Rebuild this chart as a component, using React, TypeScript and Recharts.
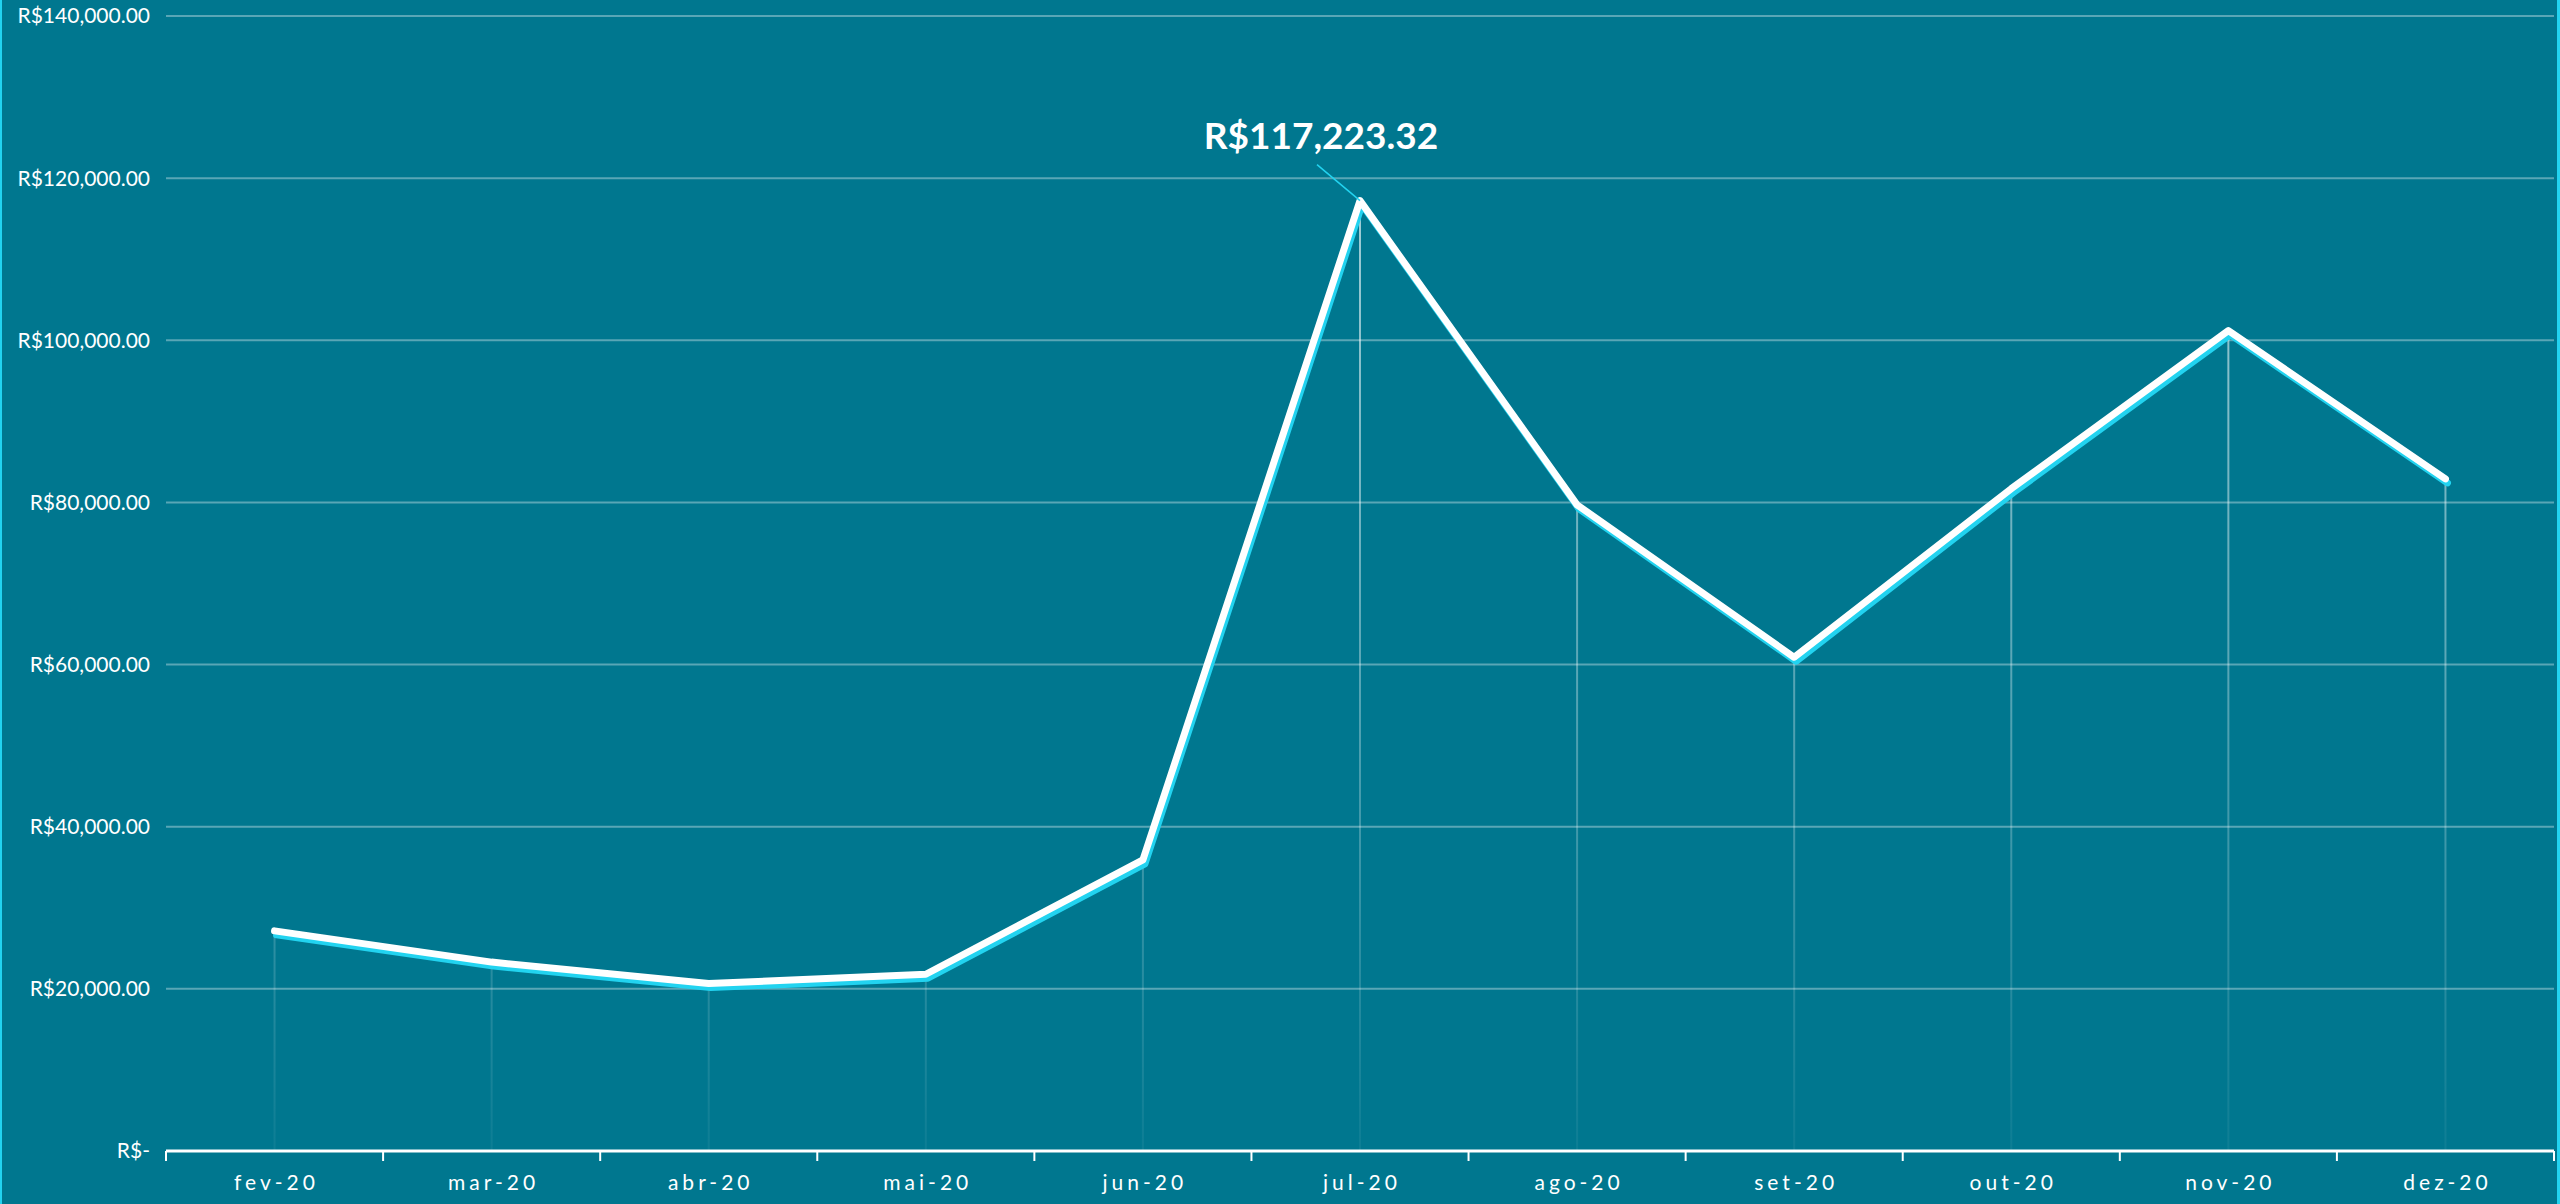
import React from 'react';
import {
  LineChart,
  Line,
  XAxis,
  YAxis,
  CartesianGrid,
  ReferenceLine,
  ReferenceDot,
} from 'recharts';

const MONTHS = [
  'fev-20', 'mar-20', 'abr-20', 'mai-20', 'jun-20', 'jul-20',
  'ago-20', 'set-20', 'out-20', 'nov-20', 'dez-20',
];
const REVENUE = [
  27150, 23300, 20650, 21800, 35900, 117223.32,
  79700, 60900, 81700, 101200, 82900,
];
const Y_TICKS = [0, 20000, 40000, 60000, 80000, 100000, 120000, 140000];

const W = 2560;
const H = 1204;
const Y_AXIS_W = 166;
const RIGHT = 6;
const HALF_BAND = (W - Y_AXIS_W - RIGHT) / MONTHS.length / 2;

const BG = '#00778F';
const CYAN = '#22d3f0';
const FONT = 'Lato, "Open Sans", sans-serif';

const data = MONTHS.map((m, i) => ({ month: m, value: REVENUE[i] }));
const peakIdx = REVENUE.indexOf(Math.max(...REVENUE));

const brl = (v: number) =>
  v === 0
    ? 'R$-'
    : 'R$' + v.toLocaleString('en-US', { minimumFractionDigits: 2, maximumFractionDigits: 2 });

// month label + boundary tick marks (ticks sit between categories, not under them)
const MonthTick = (props: any) => {
  const { x, y, payload, index } = props;
  const half = payload?.offset || HALF_BAND;
  const isLast = index === MONTHS.length - 1;
  return (
    <g>
      <line x1={x - half} y1={y} x2={x - half} y2={y + 10} stroke="#fff" strokeWidth={2} />
      {isLast && (
        <line x1={x + half} y1={y} x2={x + half} y2={y + 10} stroke="#fff" strokeWidth={2} />
      )}
      <text
        x={x + 2}
        y={y + 39}
        textAnchor="middle"
        fill="#fff"
        fontSize={21}
        letterSpacing={4}
        fontFamily={FONT}
      >
        {payload.value}
      </text>
    </g>
  );
};

const PeakCallout = (props: any) => {
  const { cx, cy } = props;
  if (cx == null || cy == null) return null;
  return (
    <g>
      <line x1={cx} y1={cy} x2={cx - 43} y2={cy - 36} stroke={CYAN} strokeWidth={1.5} />
      <text
        x={cx - 39}
        y={cy - 52}
        textAnchor="middle"
        fill="#fff"
        fontSize={37}
        fontWeight={700}
        fontFamily={FONT}
      >
        {brl(REVENUE[peakIdx])}
      </text>
    </g>
  );
};

export default function App() {
  return (
    <div style={{ position: 'absolute', left: 0, top: 0, width: W, height: H, background: BG, overflow: 'hidden' }}>
      <style>{'.cyan-shadow path{transform:translate(2px,4px)}'}</style>
      <svg width={0} height={0} style={{ position: 'absolute' }}>
        <defs>
          <linearGradient id="dropFade" gradientUnits="userSpaceOnUse" x1={0} y1={16} x2={0} y2={1151}>
            <stop offset="0%" stopColor="#fff" stopOpacity={0.75} />
            <stop offset="100%" stopColor="#fff" stopOpacity={0.05} />
          </linearGradient>
        </defs>
      </svg>
      <LineChart
        width={W}
        height={H}
        data={data}
        margin={{ top: 16, right: RIGHT, bottom: 0, left: 0 }}
        style={{ fontFamily: FONT }}
      >
        <CartesianGrid vertical={false} stroke="rgba(255,255,255,0.35)" strokeWidth={2} />
        <XAxis
          dataKey="month"
          height={H - 1151}
          padding={{ left: HALF_BAND, right: HALF_BAND }}
          axisLine={{ stroke: '#fff', strokeWidth: 3 }}
          tickLine={false}
          tickSize={0}
          tickMargin={0}
          interval={0}
          tick={<MonthTick />}
        />
        <YAxis
          width={Y_AXIS_W}
          domain={[0, 140000]}
          ticks={Y_TICKS}
          tickFormatter={brl}
          axisLine={false}
          tickLine={false}
          tickSize={0}
          tickMargin={16}
          tick={{ fill: '#fff', fontSize: 21, fontFamily: FONT }}
        />
        {MONTHS.map((m, i) => (
          <ReferenceLine
            key={m}
            segment={[{ x: m, y: 0 }, { x: m, y: REVENUE[i] }]}
            stroke="url(#dropFade)"
            strokeWidth={2}
          />
        ))}
        <Line
          className="cyan-shadow"
          dataKey="value"
          stroke={CYAN}
          strokeWidth={7}
          strokeLinecap="round"
          strokeLinejoin="round"
          dot={false}
          activeDot={false}
          isAnimationActive={false}
        />
        <Line
          dataKey="value"
          stroke="#fff"
          strokeWidth={7}
          strokeLinecap="round"
          strokeLinejoin="round"
          dot={false}
          activeDot={false}
          isAnimationActive={false}
        />
        <ReferenceDot
          x={MONTHS[peakIdx]}
          y={REVENUE[peakIdx]}
          r={0}
          ifOverflow="visible"
          shape={(p: any) => <PeakCallout {...p} />}
        />
      </LineChart>
      <div style={{ position: 'absolute', left: 0, top: 0, width: 2, height: H, background: CYAN }} />
      <div style={{ position: 'absolute', right: 0, top: 0, width: 3, height: H, background: CYAN }} />
    </div>
  );
}
